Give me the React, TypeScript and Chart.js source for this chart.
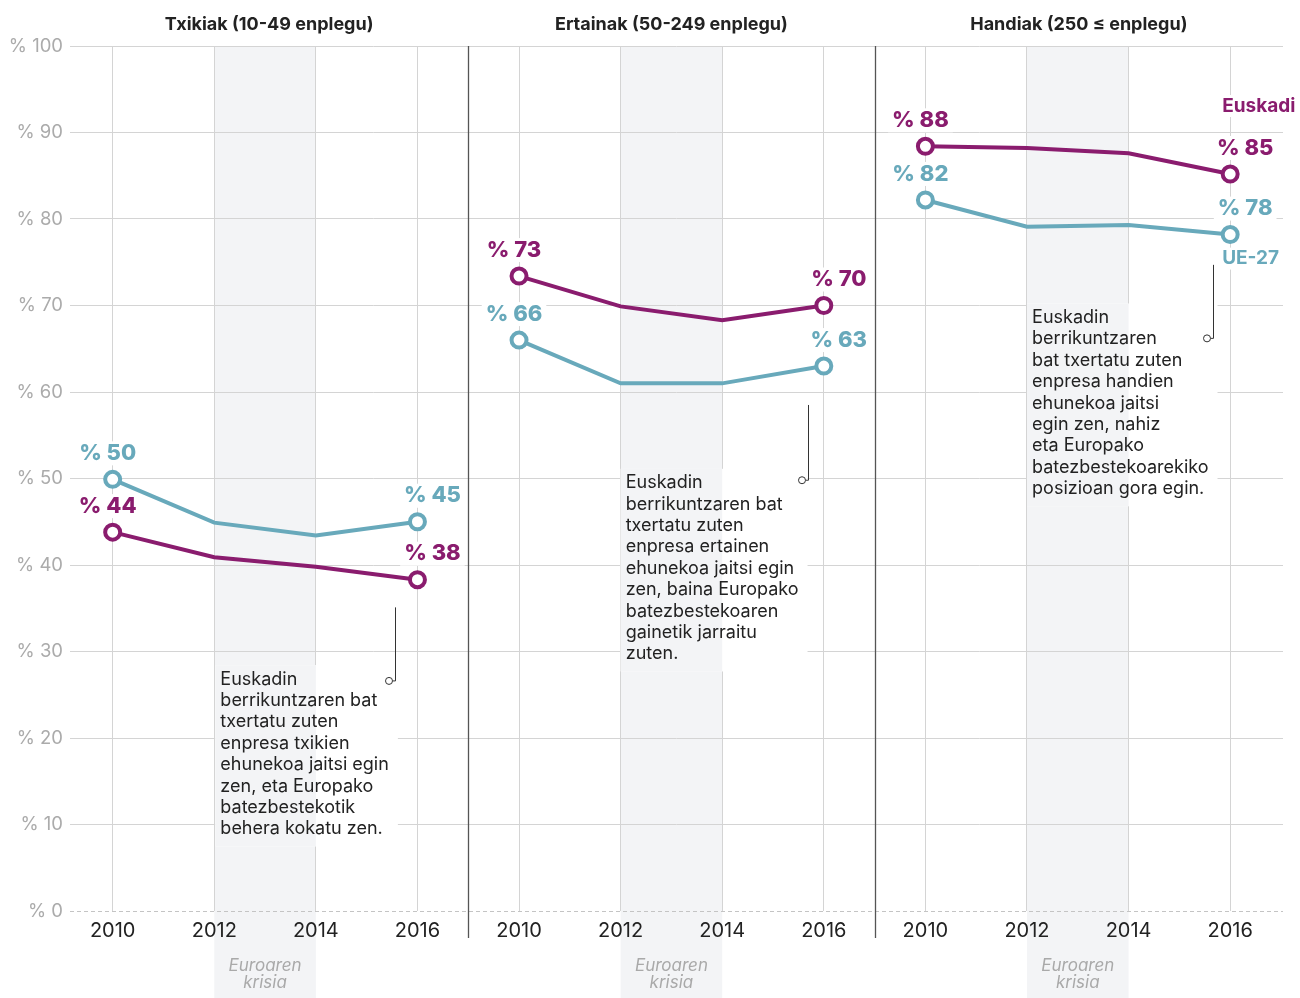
import React, { useEffect, useRef } from 'react';
import { Chart, registerables } from 'chart.js';

Chart.register(...registerables);

const years = ['2010', '2012', '2014', '2016'];
const panelTitles = ['Txikiak (10-49 enplegu)', 'Ertainak (50-249 enplegu)', 'Handiak (250 ≤ enplegu)'];

const euskadiTxikiak = [43.8, 40.9, 39.8, 38.3];
const ueTxikiak = [49.9, 44.9, 43.4, 45.0];
const euskadiErtainak = [73.4, 69.9, 68.3, 70.0];
const ueErtainak = [66.0, 61.0, 61.0, 63.0];
const euskadiHandiak = [88.4, 88.2, 87.6, 85.2];
const ueHandiak = [82.2, 79.1, 79.3, 78.2];

const euskadiSeries = [euskadiTxikiak, euskadiErtainak, euskadiHandiak];
const ueSeries = [ueTxikiak, ueErtainak, ueHandiak];

const yTicks = [0, 10, 20, 30, 40, 50, 60, 70, 80, 90, 100];

const annotTxikiak = ['Euskadin', 'berrikuntzaren bat', 'txertatu zuten', 'enpresa txikien', 'ehunekoa jaitsi egin', 'zen, eta Europako', 'batezbestekotik', 'behera kokatu zen.'];
const annotErtainak = ['Euskadin', 'berrikuntzaren bat', 'txertatu zuten', 'enpresa ertainen', 'ehunekoa jaitsi egin', 'zen, baina Europako', 'batezbestekoaren', 'gainetik jarraitu', 'zuten.'];
const annotHandiak = ['Euskadin', 'berrikuntzaren', 'bat txertatu zuten', 'enpresa handien', 'ehunekoa jaitsi', 'egin zen, nahiz', 'eta Europako', 'batezbestekoarekiko', 'posizioan gora egin.'];
const annotTexts = [annotTxikiak, annotErtainak, annotHandiak];
// anchors in data units: [textLeftX, firstLineY, leaderX, leaderTopY, leaderBottomY]
const annotAnchors = [
  [1.06, 26.8, 2.78, 35.1, 26.6],
  [5.05, 49.5, 6.84, 58.5, 49.8],
  [9.05, 68.6, 10.83, 74.7, 66.2],
];

const crisisLabel = ['Euroaren', 'krisia'];
const PURPLE = '#8a1c6e';
const TEAL = '#68a9bb';
const BAND = '#f3f4f6';
const GRID = '#d4d4d4';
const FONT = 'Inter, "Noto Sans", sans-serif';

const xOf = (panel: number, i: number) => panel * 4 + i;

export default function App() {
  const ref = useRef<HTMLCanvasElement | null>(null);

  useEffect(() => {
    if (!ref.current) return;
    Chart.defaults.font.family = FONT;

    const datasets: any[] = [];
    for (let p = 0; p < 3; p++) {
      const mk = (vals: number[], color: string, label: string) => ({
        label,
        data: vals.map((v, i) => ({ x: xOf(p, i), y: v })),
        borderColor: color,
        backgroundColor: color,
        borderWidth: 4,
        pointRadius: vals.map((_, i) => (i === 0 || i === vals.length - 1 ? 7.5 : 0)),
        pointHoverRadius: vals.map((_, i) => (i === 0 || i === vals.length - 1 ? 7.5 : 0)),
        pointBackgroundColor: '#ffffff',
        pointBorderColor: color,
        pointBorderWidth: 4,
        tension: 0,
      });
      datasets.push(mk(ueSeries[p], TEAL, 'UE-27'));
      datasets.push(mk(euskadiSeries[p], PURPLE, 'Euskadi'));
    }

    const bandRanges = () => [0, 1, 2].map((p) => [xOf(p, 1), xOf(p, 2)]);
    const LABEL_FONT = `800 22px ${FONT}`;
    const ANNOT_FONT = `18px ${FONT}`;
    const ANNOT_LH = 21.4;

    const plugin = {
      id: 'decor',
      beforeDraw(chart: any) {
        const { ctx, chartArea, scales } = chart;
        const x = scales.x;
        ctx.save();
        ctx.fillStyle = BAND;
        bandRanges().forEach(([a, b]) => {
          const xa = x.getPixelForValue(a);
          const xb = x.getPixelForValue(b);
          ctx.fillRect(xa, chartArea.top, xb - xa, chart.height - chartArea.top);
        });
        ctx.restore();
      },
      beforeDatasetsDraw(chart: any) {
        const { ctx, chartArea, scales } = chart;
        const x = scales.x;
        const y = scales.y;
        ctx.save();
        // dashed zero line
        const y0 = Math.round(y.getPixelForValue(0)) + 0.5;
        ctx.strokeStyle = '#c4c4c4';
        ctx.lineWidth = 1;
        ctx.setLineDash([4, 3]);
        ctx.beginPath();
        ctx.moveTo(chartArea.left, y0);
        ctx.lineTo(chartArea.right, y0);
        ctx.stroke();
        ctx.setLineDash([]);
        // annotation boxes
        ctx.font = ANNOT_FONT;
        annotTexts.forEach((lines, p) => {
          const [tx, ty] = annotAnchors[p];
          const left = x.getPixelForValue(tx) - 5;
          const top = y.getPixelForValue(ty) - 14;
          const w = Math.max(...lines.map((l) => ctx.measureText(l).width)) + 14;
          const h = lines.length * ANNOT_LH + 10;
          ctx.fillStyle = '#ffffff';
          ctx.fillRect(left, top, w, h);
          const [a, b] = bandRanges()[p];
          const xa = x.getPixelForValue(a);
          const xb = x.getPixelForValue(b);
          const l2 = Math.max(left, xa);
          const r2 = Math.min(left + w, xb);
          if (r2 > l2) {
            ctx.fillStyle = BAND;
            ctx.fillRect(l2, top, r2 - l2, h);
          }
        });
        // label backgrounds
        ctx.font = LABEL_FONT;
        for (let p = 0; p < 3; p++) {
          [euskadiSeries[p], ueSeries[p]].forEach((vals) => {
            [0, vals.length - 1].forEach((i) => {
              const px = x.getPixelForValue(xOf(p, i));
              const py = y.getPixelForValue(vals[i]);
              const cx = i === 0 ? px - 5 : px + 15;
              const cy = py - 26;
              const t = '% ' + Math.round(vals[i]);
              const w = ctx.measureText(t).width + 8;
              ctx.fillStyle = '#ffffff';
              ctx.fillRect(cx - w / 2, cy - 12, w, 24);
            });
          });
        }
        // legend backgrounds
        const lp = 2;
        const lastI = 3;
        const lx = x.getPixelForValue(xOf(lp, lastI)) - 8;
        ctx.font = `bold 19px ${FONT}`;
        const ey = y.getPixelForValue(euskadiSeries[lp][lastI]) - 68;
        const uy = y.getPixelForValue(ueSeries[lp][lastI]) + 24;
        ctx.fillStyle = '#ffffff';
        ctx.fillRect(lx - 3, ey - 11, ctx.measureText('Euskadi').width + 6, 22);
        ctx.fillRect(lx - 3, uy - 11, ctx.measureText('UE-27').width + 6, 22);
        // panel separators
        ctx.strokeStyle = '#555555';
        ctx.lineWidth = 1.3;
        [3.5, 7.5].forEach((v) => {
          const px = Math.round(x.getPixelForValue(v)) + 0.5;
          ctx.beginPath();
          ctx.moveTo(px, chartArea.top);
          ctx.lineTo(px, chartArea.bottom + 27);
          ctx.stroke();
        });
        ctx.restore();
      },
      afterDatasetsDraw(chart: any) {
        const { ctx, chartArea, scales } = chart;
        const x = scales.x;
        const y = scales.y;
        ctx.save();
        // value labels
        ctx.font = LABEL_FONT;
        ctx.textAlign = 'center';
        ctx.textBaseline = 'middle';
        for (let p = 0; p < 3; p++) {
          [
            [euskadiSeries[p], PURPLE],
            [ueSeries[p], TEAL],
          ].forEach(([vals, color]: any) => {
            [0, vals.length - 1].forEach((i: number) => {
              const px = x.getPixelForValue(xOf(p, i));
              const py = y.getPixelForValue(vals[i]);
              const cx = i === 0 ? px - 5 : px + 15;
              const cy = py - 26;
              ctx.fillStyle = color;
              ctx.fillText('% ' + Math.round(vals[i]), cx, cy);
            });
          });
        }
        // legend labels
        const lp = 2;
        const lastI = 3;
        const lx = x.getPixelForValue(xOf(lp, lastI)) - 8;
        ctx.font = `bold 19px ${FONT}`;
        ctx.textAlign = 'left';
        ctx.fillStyle = PURPLE;
        ctx.fillText('Euskadi', lx, y.getPixelForValue(euskadiSeries[lp][lastI]) - 68);
        ctx.fillStyle = TEAL;
        ctx.fillText('UE-27', lx, y.getPixelForValue(ueSeries[lp][lastI]) + 24);

        // annotations
        ctx.font = ANNOT_FONT;
        ctx.fillStyle = '#222222';
        annotTexts.forEach((lines, p) => {
          const [tx, ty, lxv, lt, lb] = annotAnchors[p];
          const left = x.getPixelForValue(tx);
          const top = y.getPixelForValue(ty);
          lines.forEach((l, k) => ctx.fillText(l, left, top + k * ANNOT_LH));
          const lpx = Math.round(x.getPixelForValue(lxv)) + 0.5;
          const ltp = y.getPixelForValue(lt);
          const lbp = y.getPixelForValue(lb);
          ctx.strokeStyle = '#333333';
          ctx.lineWidth = 1;
          ctx.beginPath();
          ctx.moveTo(lpx, ltp);
          ctx.lineTo(lpx, lbp);
          ctx.lineTo(lpx - 3, lbp);
          ctx.stroke();
          ctx.beginPath();
          ctx.fillStyle = '#ffffff';
          ctx.arc(lpx - 6.5, lbp, 3.5, 0, Math.PI * 2);
          ctx.fill();
          ctx.stroke();
          ctx.fillStyle = '#222222';
        });

        // titles
        ctx.font = `bold 18px ${FONT}`;
        ctx.textAlign = 'center';
        ctx.fillStyle = '#222222';
        const seps = [chartArea.left, x.getPixelForValue(3.5), x.getPixelForValue(7.5), chartArea.right];
        panelTitles.forEach((t, p) => {
          ctx.fillText(t, (seps[p] + seps[p + 1]) / 2, 25);
        });

        // crisis labels
        ctx.font = `italic 17px ${FONT}`;
        ctx.fillStyle = '#a9a9a9';
        bandRanges().forEach(([a, b]) => {
          const c = (x.getPixelForValue(a) + x.getPixelForValue(b)) / 2;
          crisisLabel.forEach((l, k) => ctx.fillText(l, c, chartArea.bottom + 55 + k * 17));
        });
        ctx.restore();
      },
    };

    const chart = new Chart(ref.current, {
      type: 'line',
      data: { datasets },
      plugins: [plugin],
      options: {
        animation: false,
        responsive: false,
        maintainAspectRatio: false,
        layout: { padding: { top: 46, right: 17, left: 0, bottom: 0 } },
        plugins: { legend: { display: false }, tooltip: { enabled: false }, title: { display: false } },
        scales: {
          x: {
            type: 'linear',
            min: -0.42,
            max: 11.52,
            afterFit: (s: any) => {
              s.height = 87;
            },
            afterBuildTicks: (s: any) => {
              s.ticks = Array.from({ length: 12 }, (_, i) => ({ value: i }));
            },
            ticks: {
              padding: 8,
              color: '#222222',
              font: { size: 20, family: FONT },
              maxRotation: 0,
              autoSkip: false,
              callback: (v: any) => years[Number(v) % 4],
            },
            grid: { color: GRID, drawTicks: false, lineWidth: 1 },
            border: { display: false },
          },
          y: {
            min: 0,
            max: 100,
            afterFit: (s: any) => {
              s.width = 70;
            },
            afterBuildTicks: (s: any) => {
              s.ticks = yTicks.map((v) => ({ value: v }));
            },
            ticks: {
              padding: 7,
              color: '#ababab',
              font: { size: 18.5, family: FONT },
              callback: (v: any) => '% ' + v,
            },
            grid: {
              color: (c: any) => (c.tick && c.tick.value === 0 ? 'rgba(0,0,0,0)' : GRID),
              drawTicks: false,
              lineWidth: 1,
            },
            border: { display: false },
          },
        },
      },
    });
    return () => chart.destroy();
  }, []);

  return (
    <div style={{ position: 'fixed', left: 0, top: 0, width: 1300, height: 998, background: '#ffffff' }}>
      <canvas ref={ref} width={1300} height={998} style={{ width: 1300, height: 998, display: 'block' }} />
    </div>
  );
}
